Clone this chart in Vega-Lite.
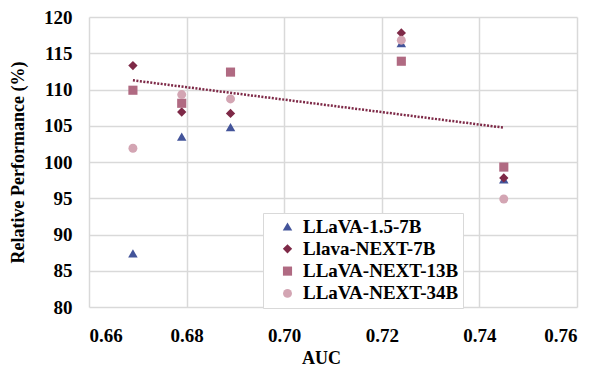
{
  "$schema": "https://vega.github.io/schema/vega-lite/v6.json",
  "width": 488,
  "height": 290,
  "autosize": {"type": "none"},
  "padding": {"left": 89, "top": 17, "right": 18, "bottom": 60},
  "background": "white",
  "config": {
    "view": {"stroke": null},
    "font": "Liberation Serif",
    "axis": {"labelFont": "Liberation Serif", "titleFont": "Liberation Serif", "labelFontSize": 19, "labelFontWeight": "bold", "titleFontSize": 18, "titleFontWeight": "bold", "labelColor": "#000", "titleColor": "#000", "gridColor": "#d9d9d9", "gridWidth": 1.5, "domain": false, "ticks": false, "labelOverlap": false}
  },
  "data": {"values": [
    {"model": "LLaVA-1.5-7B", "auc": 0.669, "perf": 87.4},
    {"model": "LLaVA-1.5-7B", "auc": 0.679, "perf": 103.5},
    {"model": "LLaVA-1.5-7B", "auc": 0.689, "perf": 104.8},
    {"model": "LLaVA-1.5-7B", "auc": 0.724, "perf": 116.4},
    {"model": "LLaVA-1.5-7B", "auc": 0.745, "perf": 97.6},
    {"model": "Llava-NEXT-7B", "auc": 0.669, "perf": 113.3},
    {"model": "Llava-NEXT-7B", "auc": 0.679, "perf": 106.9},
    {"model": "Llava-NEXT-7B", "auc": 0.689, "perf": 106.7},
    {"model": "Llava-NEXT-7B", "auc": 0.724, "perf": 117.8},
    {"model": "Llava-NEXT-7B", "auc": 0.745, "perf": 97.8},
    {"model": "LLaVA-NEXT-13B", "auc": 0.669, "perf": 109.9},
    {"model": "LLaVA-NEXT-13B", "auc": 0.679, "perf": 108.1},
    {"model": "LLaVA-NEXT-13B", "auc": 0.689, "perf": 112.4},
    {"model": "LLaVA-NEXT-13B", "auc": 0.724, "perf": 113.9},
    {"model": "LLaVA-NEXT-13B", "auc": 0.745, "perf": 99.3},
    {"model": "LLaVA-NEXT-34B", "auc": 0.669, "perf": 101.9},
    {"model": "LLaVA-NEXT-34B", "auc": 0.679, "perf": 109.3},
    {"model": "LLaVA-NEXT-34B", "auc": 0.689, "perf": 108.7},
    {"model": "LLaVA-NEXT-34B", "auc": 0.724, "perf": 116.8},
    {"model": "LLaVA-NEXT-34B", "auc": 0.745, "perf": 94.9}
  ]},
  "encoding": {
    "x": {"field": "auc", "type": "quantitative", "title": "AUC", "scale": {"domain": [0.66, 0.76]}, "axis": {"values": [0.66, 0.68, 0.7, 0.72, 0.74, 0.76], "format": ".2f", "labelPadding": 19, "titlePadding": 4, "titleX": 232}},
    "y": {"field": "perf", "type": "quantitative", "title": "Relative Performance (%)", "scale": {"domain": [80, 120]}, "axis": {"values": [80, 85, 90, 95, 100, 105, 110, 115, 120], "labelPadding": 17, "titlePadding": 16}}
  },
  "layer": [
    {
      "mark": {"type": "point", "filled": true, "opacity": 1},
      "encoding": {
        "color": {"field": "model", "type": "nominal", "scale": {"domain": ["LLaVA-1.5-7B", "Llava-NEXT-7B", "LLaVA-NEXT-13B", "LLaVA-NEXT-34B"], "range": ["#43549A", "#7E2947", "#B06A82", "#D3A5B3"]},
          "legend": {"title": null, "orient": "none", "legendX": 174, "legendY": 196, "direction": "vertical", "labelFont": "Liberation Serif", "labelFontSize": 19, "labelFontWeight": "bold", "labelColor": "#000", "labelExpr": "datum.label + '\u2003\u2003'", "labelLimit": 300, "symbolSize": 55, "symbolOpacity": 1, "symbolStrokeWidth": 0, "rowPadding": 2.3, "labelOffset": 6, "fillColor": "white", "strokeColor": "#d9d9d9", "padding": 4, "offset": 0, "symbolOffset": 11,
            "encode": {"symbols": {"update": {"fill": {"signal": "datum.value === 'Llava-NEXT-7B' ? '#8B2A22' : scale('color', datum.value)"}}}}}},
        "shape": {"field": "model", "type": "nominal", "scale": {"domain": ["LLaVA-1.5-7B", "Llava-NEXT-7B", "LLaVA-NEXT-13B", "LLaVA-NEXT-34B"], "range": ["triangle-up", "diamond", "square", "circle"]}},
        "size": {"field": "model", "type": "nominal", "scale": {"domain": ["LLaVA-1.5-7B", "Llava-NEXT-7B", "LLaVA-NEXT-13B", "LLaVA-NEXT-34B"], "range": [90, 80, 120, 90]}, "legend": null}
      }
    },
    {
      "transform": [
        {"filter": "datum.model === 'Llava-NEXT-7B'"},
        {"regression": "perf", "on": "auc"}
      ],
      "mark": {"type": "line", "color": "#7E2947", "strokeWidth": 2.5, "strokeDash": [2, 1.5]},
      "encoding": {}
    }
  ]
}
